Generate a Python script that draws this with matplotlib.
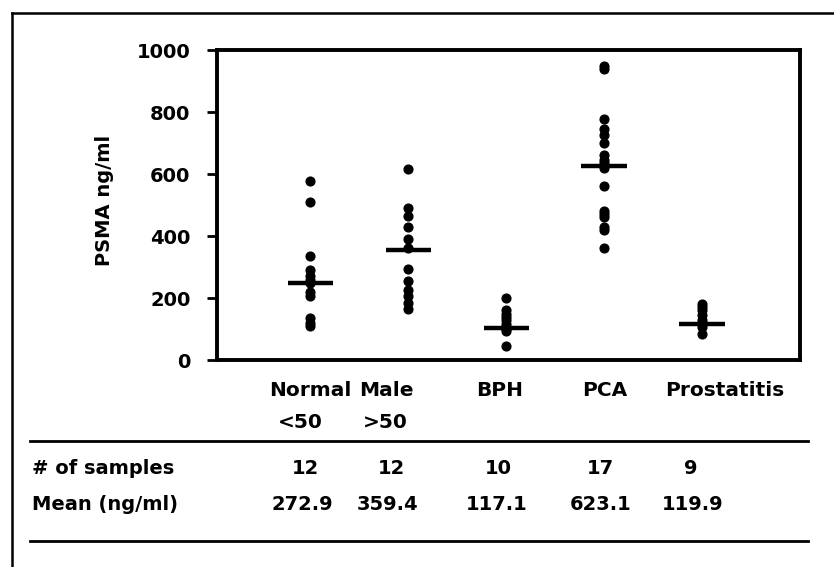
import matplotlib
matplotlib.use("Agg")
import matplotlib.pyplot as plt
from matplotlib.lines import Line2D
import numpy as np

plt.rcParams['font.family'] = ['DejaVu Sans']
plt.rcParams['font.weight'] = 'bold'

# ---- data ----
groups = ["Normal <50", "Male >50", "BPH", "PCA", "Prostatitis"]
normal = [578, 511, 336, 290, 270, 258, 250, 220, 205, 135, 120, 110]
male = [615, 490, 465, 430, 390, 360, 295, 255, 225, 205, 185, 165]
bph = [199, 160, 150, 140, 130, 115, 105, 100, 95, 45]
pca = [950, 940, 777, 745, 725, 700, 660, 645, 635, 620, 560, 480, 470, 460, 430, 420, 360]
prostatitis = [180, 170, 160, 145, 130, 120, 115, 105, 85]
line_vals = [249, 356, 102, 626, 115]
yticks = [0, 200, 400, 600, 800, 1000]
n_samples = ["12", "12", "10", "17", "9"]
mean_txt = ["272.9", "359.4", "117.1", "623.1", "119.9"]

series = [normal, male, bph, pca, prostatitis]

W, H = 834, 567
fig = plt.figure(figsize=(W / 100, H / 100), dpi=100)

def fx(x):
    return x / W

def fy(y):
    return 1 - y / H

ax = fig.add_axes([fx(217), fy(360), fx(800) - fx(217), fy(50) - fy(360)])

for i, vals in enumerate(series):
    ax.plot(np.full(len(vals), i), vals, 'o', color='black', ms=6.3, mec='black')
    ax.hlines(line_vals[i], i - 0.23, i + 0.23, color='black', lw=3.2)

ax.set_xlim(-0.95, 5.0)
ax.set_ylim(0, 1000)
ax.set_yticks(yticks)
ax.set_yticklabels([str(t) for t in yticks], fontsize=14, fontweight='bold')
ax.set_xticks([])
ax.tick_params(axis='y', length=7, width=2, pad=12)
for s in ax.spines.values():
    s.set_linewidth(2.8)

fig.text(fx(105), fy(200), "PSMA ng/ml", rotation=90, ha='center', va='center',
         fontsize=14, fontweight='bold')

# category labels
lab_line1 = [("Normal", 310), ("Male", 386), ("BPH", 500), ("PCA", 605), ("Prostatitis", 725)]
for t, x in lab_line1:
    fig.text(fx(x), fy(390), t, ha='center', va='center', fontsize=14.5, fontweight='bold')
for t, x in [("<50", 300), (">50", 385)]:
    fig.text(fx(x), fy(423), t, ha='center', va='center', fontsize=14.5, fontweight='bold')

# table
fig.add_artist(Line2D([fx(30), fx(808)], [fy(441), fy(441)], color='black', lw=2))
fig.add_artist(Line2D([fx(30), fx(808)], [fy(541), fy(541)], color='black', lw=2))
fig.text(fx(32), fy(468), "# of samples", ha='left', va='center', fontsize=14, fontweight='bold')
fig.text(fx(32), fy(505), "Mean (ng/ml)", ha='left', va='center', fontsize=14, fontweight='bold')
for t, x in zip(n_samples, [305, 391, 498, 600, 691]):
    fig.text(fx(x), fy(468), t, ha='center', va='center', fontsize=14, fontweight='bold')
for t, x in zip(mean_txt, [302, 388, 497, 601, 693]):
    fig.text(fx(x), fy(505), t, ha='center', va='center', fontsize=14, fontweight='bold')

# figure border (top and left visible)
fig.add_artist(Line2D([fx(12), fx(12)], [0, fy(13)], color='black', lw=1.8))
fig.add_artist(Line2D([fx(12), 1], [fy(13), fy(13)], color='black', lw=1.8))

fig.savefig("out.png", dpi=100)
